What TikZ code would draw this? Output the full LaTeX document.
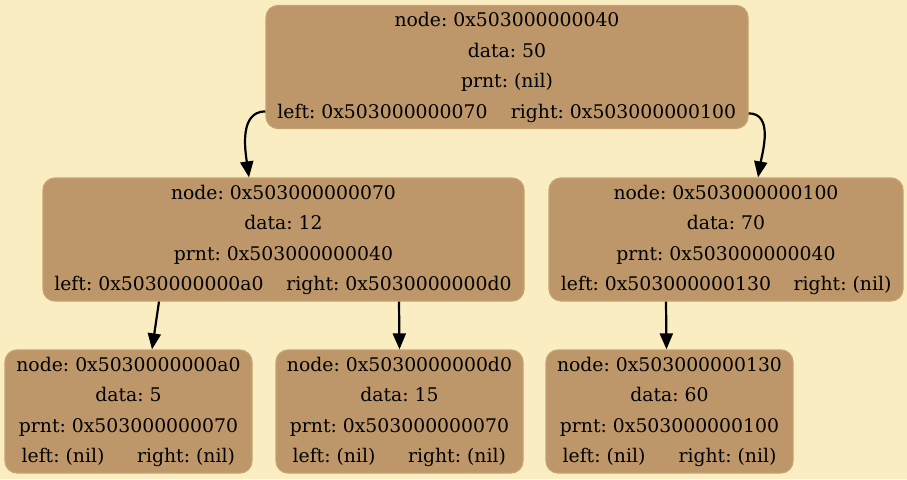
\documentclass[tikz,border=0pt]{standalone}
\usepackage{fontspec}
\setmainfont{DejaVu Serif}
\usetikzlibrary{arrows.meta, positioning, calc}
\definecolor{paper}{HTML}{FAEDC1}
\definecolor{nodefill}{HTML}{BD976A}
\definecolor{nodeline}{HTML}{C6A171}
\frenchspacing
\tikzset{
    treediagram/.style={x=1pt, y=-1pt, >={Triangle[length=16pt, width=13pt]}},
    treebox/.style={draw=nodeline, line width=1.2pt, fill=nodefill, rounded corners=12pt,
        minimum height=123pt, inner sep=0pt},
    celltext/.style={anchor=base, inner sep=0pt, font=\fontsize{18.8}{22}\selectfont},
    link/.style={->, line width=2.2pt},
}

\begin{document}
\begin{tikzpicture}[treediagram]
    \fill[paper] (0,0) rectangle (907,479);
    \useasboundingbox (0,0) rectangle (907,479);

    % tree boxes
    \node[treebox, minimum width=482pt] (root) at (507,67)    {};
    \node[treebox, minimum width=481pt] (n70)  at (283.5,239.5) {};
    \node[treebox, minimum width=354pt] (n100) at (726,239.5) {};
    \node[treebox, minimum width=247pt] (na0)  at (128.5,411.5) {};
    \node[treebox, minimum width=247pt] (nd0)  at (399.5,411.5) {};
    \node[treebox, minimum width=247pt] (n130) at (669.5,411.5) {};

    % root
    \node[celltext] (root-node)  at ([yshift=-22pt]root.north)   {node: 0x503000000040};
    \node[celltext] (root-data)  at ([yshift=-52.5pt]root.north) {data: 50};
    \node[celltext] (root-prnt)  at ([yshift=-83pt]root.north)   {prnt: (nil)};
    \node[celltext] (root-left)  at ([xshift=-124.5pt, yshift=-113.5pt]root.north) {left: 0x503000000070};
    \node[celltext] (root-right) at ([xshift=116.5pt, yshift=-113.5pt]root.north)  {right: 0x503000000100};

    % 0x503000000070
    \node[celltext] (n70-node)  at ([yshift=-22pt]n70.north)   {node: 0x503000000070};
    \node[celltext] (n70-data)  at ([yshift=-52.5pt]n70.north) {data: 12};
    \node[celltext] (n70-prnt)  at ([yshift=-83pt]n70.north)   {prnt: 0x503000000040};
    \node[celltext] (n70-left)  at ([xshift=-124.5pt, yshift=-113.5pt]n70.north) {left: 0x5030000000a0};
    \node[celltext] (n70-right) at ([xshift=115.5pt, yshift=-113.5pt]n70.north)  {right: 0x5030000000d0};

    % 0x503000000100
    \node[celltext] (n100-node)  at ([yshift=-22pt]n100.north)   {node: 0x503000000100};
    \node[celltext] (n100-data)  at ([yshift=-52.5pt]n100.north) {data: 70};
    \node[celltext] (n100-prnt)  at ([yshift=-83pt]n100.north)   {prnt: 0x503000000040};
    \node[celltext] (n100-left)  at ([xshift=-60pt, yshift=-113.5pt]n100.north)   {left: 0x503000000130};
    \node[celltext] (n100-right) at ([xshift=116.5pt, yshift=-113.5pt]n100.north) {right: (nil)};

    % leaves
    \node[celltext] (na0-node)  at ([yshift=-22pt]na0.north)   {node: 0x5030000000a0};
    \node[celltext] (na0-data)  at ([yshift=-52.5pt]na0.north) {data: 5};
    \node[celltext] (na0-prnt)  at ([yshift=-83pt]na0.north)   {prnt: 0x503000000070};
    \node[celltext] (na0-left)  at ([xshift=-65.5pt, yshift=-113.5pt]na0.north) {left: (nil)};
    \node[celltext] (na0-right) at ([xshift=57.5pt, yshift=-113.5pt]na0.north)  {right: (nil)};

    \node[celltext] (nd0-node)  at ([yshift=-22pt]nd0.north)   {node: 0x5030000000d0};
    \node[celltext] (nd0-data)  at ([yshift=-52.5pt]nd0.north) {data: 15};
    \node[celltext] (nd0-prnt)  at ([yshift=-83pt]nd0.north)   {prnt: 0x503000000070};
    \node[celltext] (nd0-left)  at ([xshift=-65.5pt, yshift=-113.5pt]nd0.north) {left: (nil)};
    \node[celltext] (nd0-right) at ([xshift=57.5pt, yshift=-113.5pt]nd0.north)  {right: (nil)};

    \node[celltext] (n130-node)  at ([yshift=-22pt]n130.north)   {node: 0x503000000130};
    \node[celltext] (n130-data)  at ([yshift=-52.5pt]n130.north) {data: 60};
    \node[celltext] (n130-prnt)  at ([yshift=-83pt]n130.north)   {prnt: 0x503000000100};
    \node[celltext] (n130-left)  at ([xshift=-65.5pt, yshift=-113.5pt]n130.north) {left: (nil)};
    \node[celltext] (n130-right) at ([xshift=58pt, yshift=-113.5pt]n130.north)   {right: (nil)};

    % child links
    \draw[link] (root.west |- root-left.center) to[out=180, in=98] ([xshift=-34.5pt]n70.north);
    \draw[link] (root.east |- root-right.center) to[out=0, in=80] ([xshift=32pt]n100.north);
    \draw[link] (n70.south -| n70-left) -- ([xshift=23.5pt]na0.north);
    \draw[link] (n70.south -| n70-right) -- (nd0.north);
    \draw[link] (n100.south -| n100-left) -- ([xshift=-3pt]n130.north);
\end{tikzpicture}
\end{document}
